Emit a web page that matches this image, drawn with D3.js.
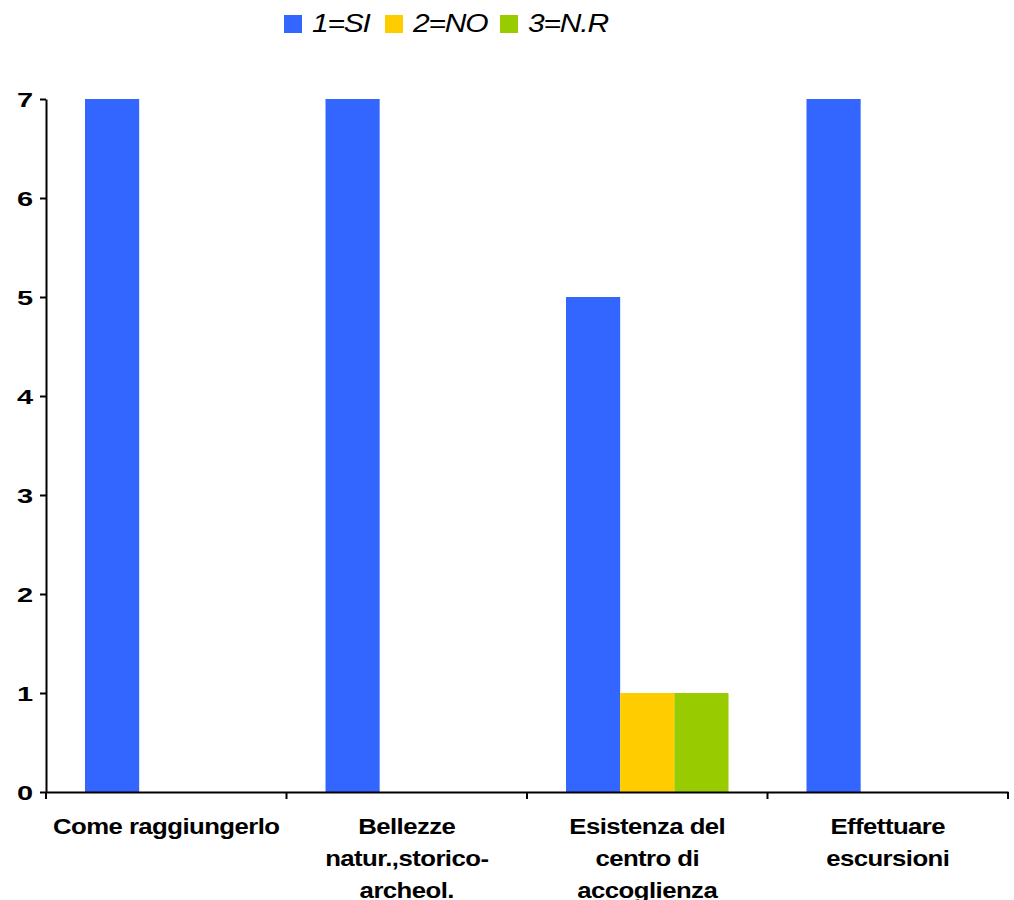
<!DOCTYPE html>
<html><head><meta charset="utf-8">
<script src="https://cdn.jsdelivr.net/npm/d3@7"></script>
<style>body{margin:0;background:#fff}svg{display:block}text{font-family:"Liberation Sans",Arial,sans-serif}</style>
</head><body>
<svg id="c" width="1014" height="900"></svg>
<script>
const categories = ["Come raggiungerlo", "Bellezze natur.,storico-archeol.", "Esistenza del centro di accoglienza", "Effettuare escursioni"];
const categoryLines = [["Come raggiungerlo"], ["Bellezze", "natur.,storico-", "archeol."], ["Esistenza del", "centro di", "accoglienza"], ["Effettuare", "escursioni"]];
const seriesNames = ["1=SI", "2=NO", "3=N.R"];
const seriesColors = ["#3366FF", "#FFCC00", "#99CC00"];
const valuesSI = [7, 7, 5, 7];
const valuesNO = [0, 0, 1, 0];
const valuesNR = [0, 0, 1, 0];
const yTicks = [0, 1, 2, 3, 4, 5, 6, 7];

(function () {
const series = [valuesSI, valuesNO, valuesNR];
const svg = d3.select("#c");
const pl = 46, pr = 1008, pt = 99, pb = 792;

const x = d3.scaleBand().domain(categories).range([pl, pr]).paddingInner(0).paddingOuter(0);
const groupPad = 39;
const xs = d3.scaleBand().domain(seriesNames).range([groupPad, x.bandwidth() - groupPad]).padding(0);
const y = d3.scaleLinear().domain([0, 7]).range([pb, pt]);

categories.forEach((c, ci) => {
  series.forEach((vals, si) => {
    const v = vals[ci];
    if (v <= 0) return;
    svg.append("rect")
      .attr("x", x(c) + xs(seriesNames[si]))
      .attr("y", y(v))
      .attr("width", xs.bandwidth())
      .attr("height", y(0) - y(v))
      .attr("fill", seriesColors[si]);
  });
});

const yAxis = svg.append("g").attr("transform", `translate(${pl},0)`)
  .call(d3.axisLeft(y).tickValues(yTicks).tickSize(6).tickSizeOuter(0).tickFormat(d3.format("d")));
yAxis.select(".domain").attr("stroke", "#000").attr("stroke-width", 2);
yAxis.selectAll(".tick line").attr("stroke", "#000").attr("stroke-width", 2);
yAxis.selectAll(".tick text").attr("x", 0).attr("dy", "0.36em")
  .attr("transform", "translate(-13,0) scale(1.45,1)")
  .style("font-size", "20px").style("font-weight", "bold").attr("fill", "#000");

const xAxis = svg.append("g").attr("transform", `translate(0,${pb})`)
  .call(d3.axisBottom(x).tickSize(0).tickSizeOuter(0).tickFormat(""));
xAxis.select(".domain").attr("stroke", "#000").attr("stroke-width", 2);
const seps = categories.map(c => x(c)).concat([pr]);
xAxis.selectAll(".sep").data(seps).enter().append("line")
  .attr("x1", d => d).attr("x2", d => d).attr("y1", 0).attr("y2", 7)
  .attr("stroke", "#000").attr("stroke-width", 2);

categories.forEach((c, ci) => {
  const cx = x(c) + x.bandwidth() / 2;
  const t = svg.append("text").attr("text-anchor", "middle")
    .attr("transform", `translate(${cx},0) scale(1.12,1)`)
    .style("font-size", "23px").style("font-weight", "bold").style("letter-spacing", "-0.5px").attr("fill", "#000");
  categoryLines[ci].forEach((ln, li) => {
    t.append("tspan").attr("x", 0).attr("y", 834 + li * 32).text(ln);
  });
});

const legendX = [284, 385, 500];
seriesNames.forEach((n, i) => {
  svg.append("rect").attr("x", legendX[i]).attr("y", 15).attr("width", 18).attr("height", 18).attr("fill", seriesColors[i]);
  svg.append("text").attr("transform", `translate(${legendX[i] + 28},32) scale(1.2,1)`).text(n)
    .style("font-size", "25px").style("font-style", "italic").style("letter-spacing", "-1px").attr("fill", "#000");
});
})();
</script>
</body></html>
